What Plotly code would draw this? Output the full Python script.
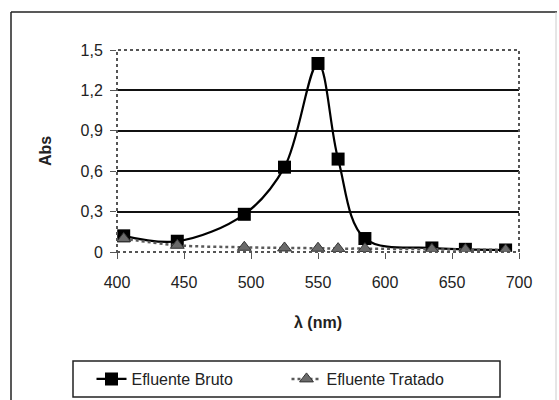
import plotly.graph_objects as go

wavelength = [405, 445, 495, 525, 550, 565, 585, 635, 660, 690]
bruto = [0.12, 0.08, 0.28, 0.63, 1.40, 0.69, 0.10, 0.03, 0.02, 0.015]
tratado = [0.10, 0.05, 0.035, 0.03, 0.028, 0.025, 0.025, 0.02, 0.018, 0.015]

y_tickvals = [0, 0.3, 0.6, 0.9, 1.2, 1.5]
y_ticktext = ["0", "0,3", "0,6", "0,9", "1,2", "1,5"]
x_tickvals = [400, 450, 500, 550, 600, 650, 700]

FONT = "Liberation Sans, Arial, sans-serif"

fig = go.Figure()
fig.add_trace(go.Scatter(
    x=wavelength, y=bruto, name="Efluente Bruto", mode="lines+markers",
    line=dict(color="black", width=2.2, shape="spline", smoothing=1.0),
    marker=dict(symbol="square", size=13, color="black"),
))
fig.add_trace(go.Scatter(
    x=wavelength, y=tratado, name="Efluente Tratado", mode="lines+markers",
    line=dict(color="#5a5a5a", width=2.5, dash="dot", shape="spline", smoothing=1.0),
    marker=dict(symbol="triangle-up", size=12, color="#6a6a6a",
                line=dict(color="#333", width=1)),
))

L, T, R, B = 117, 50, 519, 252
W, H = 559, 400
pw, ph = R - L, B - T

def px(x):
    return (x - L) / pw

def py(y):
    return (B - y) / ph

fig.update_layout(
    width=W, height=H,
    margin=dict(l=L, r=W - R, t=T, b=H - B, autoexpand=False),
    paper_bgcolor="white", plot_bgcolor="white",
    font=dict(family=FONT, size=16, color="#222"),
    showlegend=True,
    legend=dict(
        orientation="h", x=px(286.5), xanchor="center", y=py(379), yanchor="middle",
        bgcolor="rgba(0,0,0,0)", borderwidth=0, font=dict(size=16, color="#222"),
        itemwidth=30, entrywidth=150, entrywidthmode="pixels", tracegroupgap=0,
    ),
    xaxis=dict(
        range=[400, 700], tickvals=x_tickvals, ticks="outside", ticklen=6,
        tickcolor="#555", showgrid=False, zeroline=False, showline=False,
        tickfont=dict(size=16), ticklabelstandoff=10,
        title=dict(text="<b>λ (nm)</b>", font=dict(size=16), standoff=26),
    ),
    yaxis=dict(
        range=[0, 1.5], tickvals=y_tickvals, ticktext=y_ticktext,
        ticks="outside", ticklen=6, tickcolor="#555",
        showgrid=True, gridcolor="#111", gridwidth=1.5,
        zeroline=False, showline=False, tickfont=dict(size=16),
        ticklabelstandoff=4,
        title=dict(text="<b>Abs</b>", font=dict(size=16), standoff=24),
    ),
    shapes=[
        dict(type="rect", xref="paper", yref="paper", x0=0, y0=0, x1=1, y1=1,
             line=dict(color="#555", width=2, dash="dot"), layer="above"),
        dict(type="rect", xref="paper", yref="paper", x0=px(73), y0=py(361), x1=px(500), y1=py(397),
             line=dict(color="#222", width=1.5)),
        dict(type="line", xref="paper", yref="paper", x0=px(11), y0=py(12), x1=px(557), y1=py(12),
             line=dict(color="#222", width=1.5)),
        dict(type="line", xref="paper", yref="paper", x0=px(11), y0=py(12), x1=px(11), y1=py(400),
             line=dict(color="#222", width=1.5)),
        dict(type="line", xref="paper", yref="paper", x0=px(556), y0=py(12), x1=px(556), y1=py(400),
             line=dict(color="#ccc", width=1)),
    ],
)

fig.write_html("out.html", config={"displayModeBar": False},
               post_script="document.body.style.margin='0';")
